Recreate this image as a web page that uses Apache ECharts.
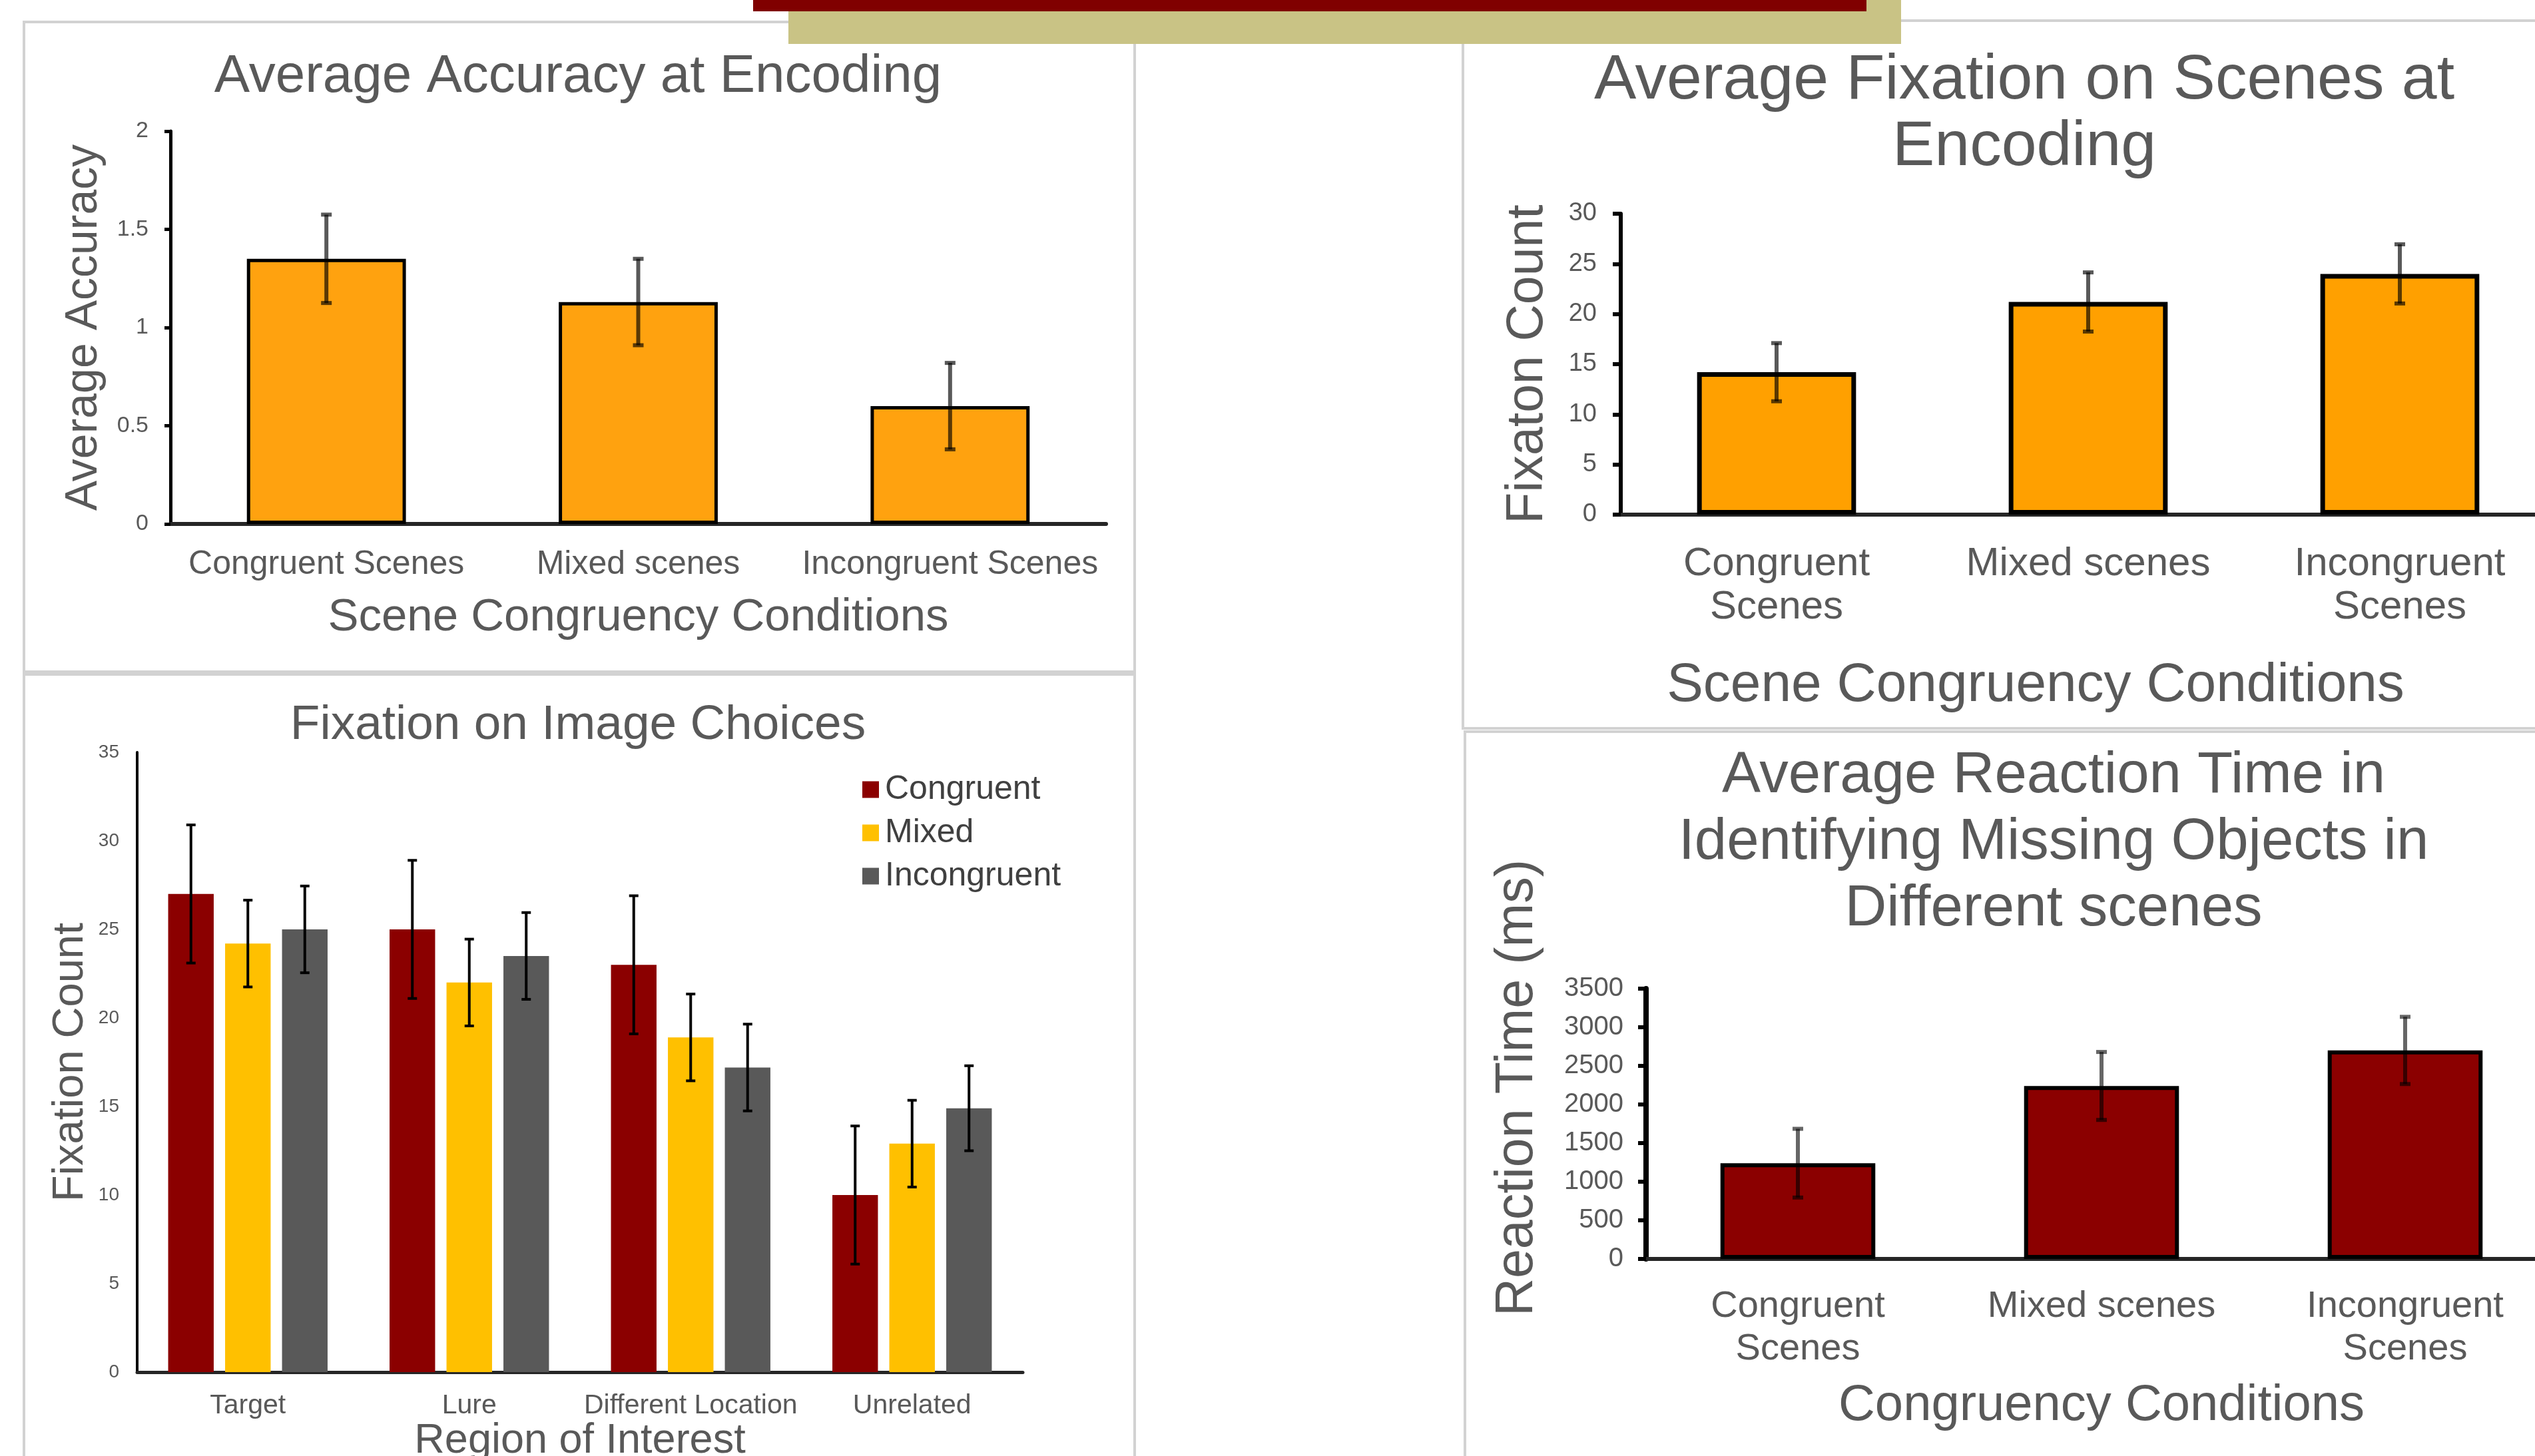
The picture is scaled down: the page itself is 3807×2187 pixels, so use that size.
<!DOCTYPE html>
<html>
<head>
<meta charset="utf-8">
<script src="https://cdn.jsdelivr.net/npm/echarts@6/dist/echarts.min.js"></script>
<style>
html,body{margin:0;padding:0;background:#fff;overflow:hidden}
#main{width:3807px;height:2187px}
</style>
</head>
<body>
<div id="main"></div>
<script>
// top-left: accuracy
var accCats = ['Congruent Scenes', 'Mixed scenes', 'Incongruent Scenes'];
var accVals = [1.35, 1.13, 0.60];
var accErr = [0.225, 0.22, 0.22];
// top-right: fixations on scenes
var fixCats = ['Congruent\nScenes', 'Mixed scenes', 'Incongruent\nScenes'];
var fixVals = [14.2, 21.2, 24.0];
var fixErr = [2.9, 2.95, 2.95];
// bottom-left: fixation on image choices
var roiCats = ['Target', 'Lure', 'Different Location', 'Unrelated'];
var roiNames = ['Congruent', 'Mixed', 'Incongruent'];
var roiCong = [27, 25, 23, 10];
var roiCongErr = [3.9, 3.9, 3.9, 3.9];
var roiMixed = [24.2, 22, 18.9, 12.9];
var roiMixedErr = [2.45, 2.45, 2.45, 2.45];
var roiIncong = [25, 23.5, 17.2, 14.9];
var roiIncongErr = [2.45, 2.45, 2.45, 2.4];
// bottom-right: reaction time
var rtCats = ['Congruent\nScenes', 'Mixed scenes', 'Incongruent\nScenes'];
var rtVals = [1240, 2240, 2700];
var rtErr = [445, 440, 435];

var FONT = "'Liberation Sans', Arial, sans-serif";
var GRAY = '#595959';

function errData(vals, errs) {
    return vals.map(function (v, i) { return [i, v - errs[i], v + errs[i]]; });
}

// error bar drawn on top of bar idx (of n) in a category
function errRender(idx, n, catGap, barGap, color, lw, capW) {
    return function (params, api) {
        var i = api.value(0);
        var lo = api.coord([i, api.value(1)]);
        var hi = api.coord([i, api.value(2)]);
        var cw = api.size([1, 0])[0];
        var bw = cw * (1 - catGap) / (n + (n - 1) * barGap);
        var x = hi[0] + (idx - (n - 1) / 2) * bw * (1 + barGap);
        var st = {stroke: color, lineWidth: lw};
        return {type: 'group', children: [
            {type: 'line', shape: {x1: x, y1: hi[1], x2: x, y2: lo[1]}, style: st},
            {type: 'line', shape: {x1: x - capW / 2, y1: hi[1], x2: x + capW / 2, y2: hi[1]}, style: st},
            {type: 'line', shape: {x1: x - capW / 2, y1: lo[1], x2: x + capW / 2, y2: lo[1]}, style: st}
        ]};
    };
}

function xAx(g, cats, o) {
    return {
        type: 'category', gridIndex: g, data: cats,
        name: o.name, nameLocation: 'middle', nameGap: o.nameGap,
        nameTextStyle: {fontSize: o.nameSize, color: GRAY, fontFamily: FONT, padding: o.namePad || 0},
        axisLine: {lineStyle: {color: '#262626', width: o.lineW}},
        axisTick: {show: false},
        axisLabel: {fontSize: o.labelSize, color: GRAY, fontFamily: FONT, margin: o.margin, lineHeight: o.lineHeight, interval: 0}
    };
}
function yAx(g, max, step, o) {
    return {
        type: 'value', gridIndex: g, min: 0, max: max, interval: step,
        name: o.name, nameLocation: 'middle', nameGap: o.nameGap, nameRotate: 90,
        nameTextStyle: {fontSize: o.nameSize, color: GRAY, fontFamily: FONT},
        axisLine: {show: true, lineStyle: {color: '#000', width: o.lineW}},
        axisTick: {show: true, length: o.tickLen, lineStyle: {color: '#000', width: o.tickW}},
        splitLine: {show: false},
        axisLabel: {fontSize: o.labelSize, color: GRAY, fontFamily: FONT, margin: o.margin,
            formatter: function (v) { return String(v); }}
    };
}

var chart = echarts.init(document.getElementById('main'));
var option = {
    animation: false,
    backgroundColor: '#fff',
    textStyle: {fontFamily: FONT},
    graphic: [
        {type: 'rect', shape: {x: 36, y: 33, width: 1668, height: 976}, style: {fill: 'none', stroke: '#d2d2d2', lineWidth: 4}},
        {type: 'rect', shape: {x: 36, y: 1013, width: 1668, height: 1250}, style: {fill: 'none', stroke: '#d2d2d2', lineWidth: 4}},
        {type: 'rect', shape: {x: 2197, y: 31, width: 1700, height: 1063}, style: {fill: 'none', stroke: '#d2d2d2', lineWidth: 4}},
        {type: 'rect', shape: {x: 2200, y: 1099, width: 1700, height: 1250}, style: {fill: 'none', stroke: '#d2d2d2', lineWidth: 4}},
        {type: 'rect', shape: {x: 1184, y: -5, width: 1671, height: 71}, style: {fill: '#C9C385'}},
        {type: 'rect', shape: {x: 1131, y: -5, width: 1672, height: 22}, style: {fill: '#800000'}},
        {type: 'text', x: 2279, y: 1634, rotation: Math.PI / 2,
            style: {text: 'Reaction Time (ms)', fontSize: 79, fill: GRAY, fontFamily: FONT, align: 'center', verticalAlign: 'middle'}}
    ],
    title: [
        {text: 'Average Accuracy at Encoding', left: 868, top: 76, textAlign: 'center', padding: 0,
            textStyle: {fontSize: 80, lineHeight: 80, color: GRAY, fontWeight: 'normal', fontFamily: FONT}},
        {text: 'Average Fixation on Scenes at\nEncoding', left: 3040, top: 72, textAlign: 'center', padding: 0,
            textStyle: {fontSize: 95, lineHeight: 100, color: GRAY, fontWeight: 'normal', fontFamily: FONT}},
        {text: 'Fixation on Image Choices', left: 868, top: 1053, textAlign: 'center', padding: 0,
            textStyle: {fontSize: 73, lineHeight: 73, color: GRAY, fontWeight: 'normal', fontFamily: FONT}},
        {text: 'Average Reaction Time in\nIdentifying Missing Objects in\nDifferent scenes', left: 3084, top: 1116, textAlign: 'center', padding: 0,
            textStyle: {fontSize: 87, lineHeight: 100, color: GRAY, fontWeight: 'normal', fontFamily: FONT}}
    ],
    legend: {
        data: roiNames, orient: 'vertical', left: 1290, top: 1156,
        itemWidth: 25, itemHeight: 25, itemGap: 15, icon: 'rect',
        textStyle: {fontSize: 50, lineHeight: 50, color: '#404040', fontFamily: FONT, padding: [0, 0, 0, 4]}
    },
    grid: [
        {left: 256, top: 197, width: 1405, height: 590, outerBoundsMode: 'none'},
        {left: 2434, top: 321, width: 1404, height: 452, outerBoundsMode: 'none'},
        {left: 206, top: 1130, width: 1330, height: 931, outerBoundsMode: 'none'},
        {left: 2472, top: 1485, width: 1368, height: 406, outerBoundsMode: 'none'}
    ],
    xAxis: [
        xAx(0, accCats, {name: 'Scene Congruency Conditions', nameGap: 106, nameSize: 69, lineW: 6, labelSize: 50, margin: 36}),
        xAx(1, fixCats, {name: 'Scene Congruency Conditions', nameGap: 216, nameSize: 82, lineW: 6, labelSize: 60, margin: 42, lineHeight: 65, namePad: [0, 158, 0, 0]}),
        xAx(2, roiCats, {name: 'Region of Interest', nameGap: 72, nameSize: 63, lineW: 5, labelSize: 41, margin: 30}),
        xAx(3, rtCats, {name: 'Congruency Conditions', nameGap: 183, nameSize: 76, lineW: 6, labelSize: 56, margin: 40, lineHeight: 64})
    ],
    yAxis: [
        yAx(0, 2, 0.5, {name: 'Average Accuracy', nameGap: 96, nameSize: 68, lineW: 5, tickLen: 9, tickW: 5, labelSize: 34, margin: 33}),
        yAx(1, 30, 5, {name: 'Fixaton Count', nameGap: 101, nameSize: 77, lineW: 6, tickLen: 12, tickW: 6, labelSize: 38, margin: 36}),
        yAx(2, 35, 5, {name: 'Fixation Count', nameGap: 67, nameSize: 65, lineW: 4, tickLen: 0, tickW: 1, labelSize: 28, margin: 27}),
        yAx(3, 3500, 500, {name: '', nameGap: 0, nameSize: 10, lineW: 8, tickLen: 12, tickW: 6, labelSize: 40, margin: 34})
    ],
    series: [
        {type: 'bar', xAxisIndex: 0, yAxisIndex: 0, data: accVals, barWidth: '51%',
            itemStyle: {color: '#FFA20F', borderColor: '#000', borderWidth: 5}},
        {type: 'custom', xAxisIndex: 0, yAxisIndex: 0, z: 10, silent: true,
            renderItem: errRender(0, 1, 0.49, 0, 'rgba(0,0,0,0.65)', 6, 16),
            encode: {x: 0, y: [1, 2]}, data: errData(accVals, accErr)},

        {type: 'bar', xAxisIndex: 1, yAxisIndex: 1, data: fixVals, barWidth: '51%',
            itemStyle: {color: '#FFA000', borderColor: '#000', borderWidth: 7}},
        {type: 'custom', xAxisIndex: 1, yAxisIndex: 1, z: 10, silent: true,
            renderItem: errRender(0, 1, 0.49, 0, 'rgba(0,0,0,0.65)', 6, 16),
            encode: {x: 0, y: [1, 2]}, data: errData(fixVals, fixErr)},

        {type: 'bar', name: 'Congruent', xAxisIndex: 2, yAxisIndex: 2, data: roiCong,
            barCategoryGap: '28%', barGap: '25%', itemStyle: {color: '#8B0000'}},
        {type: 'bar', name: 'Mixed', xAxisIndex: 2, yAxisIndex: 2, data: roiMixed,
            barCategoryGap: '28%', barGap: '25%', itemStyle: {color: '#FFC000'}},
        {type: 'bar', name: 'Incongruent', xAxisIndex: 2, yAxisIndex: 2, data: roiIncong,
            barCategoryGap: '28%', barGap: '25%', itemStyle: {color: '#595959'}},
        {type: 'custom', xAxisIndex: 2, yAxisIndex: 2, z: 10, silent: true,
            renderItem: errRender(0, 3, 0.28, 0.25, '#000', 4, 14),
            encode: {x: 0, y: [1, 2]}, data: errData(roiCong, roiCongErr)},
        {type: 'custom', xAxisIndex: 2, yAxisIndex: 2, z: 10, silent: true,
            renderItem: errRender(1, 3, 0.28, 0.25, '#000', 4, 14),
            encode: {x: 0, y: [1, 2]}, data: errData(roiMixed, roiMixedErr)},
        {type: 'custom', xAxisIndex: 2, yAxisIndex: 2, z: 10, silent: true,
            renderItem: errRender(2, 3, 0.28, 0.25, '#000', 4, 14),
            encode: {x: 0, y: [1, 2]}, data: errData(roiIncong, roiIncongErr)},

        {type: 'bar', xAxisIndex: 3, yAxisIndex: 3, data: rtVals, barWidth: '51%',
            itemStyle: {color: '#8B0000', borderColor: '#000', borderWidth: 6}},
        {type: 'custom', xAxisIndex: 3, yAxisIndex: 3, z: 10, silent: true,
            renderItem: errRender(0, 1, 0.49, 0, 'rgba(0,0,0,0.6)', 6, 16),
            encode: {x: 0, y: [1, 2]}, data: errData(rtVals, rtErr)}
    ]
};
chart.setOption(option);
</script>
</body>
</html>
